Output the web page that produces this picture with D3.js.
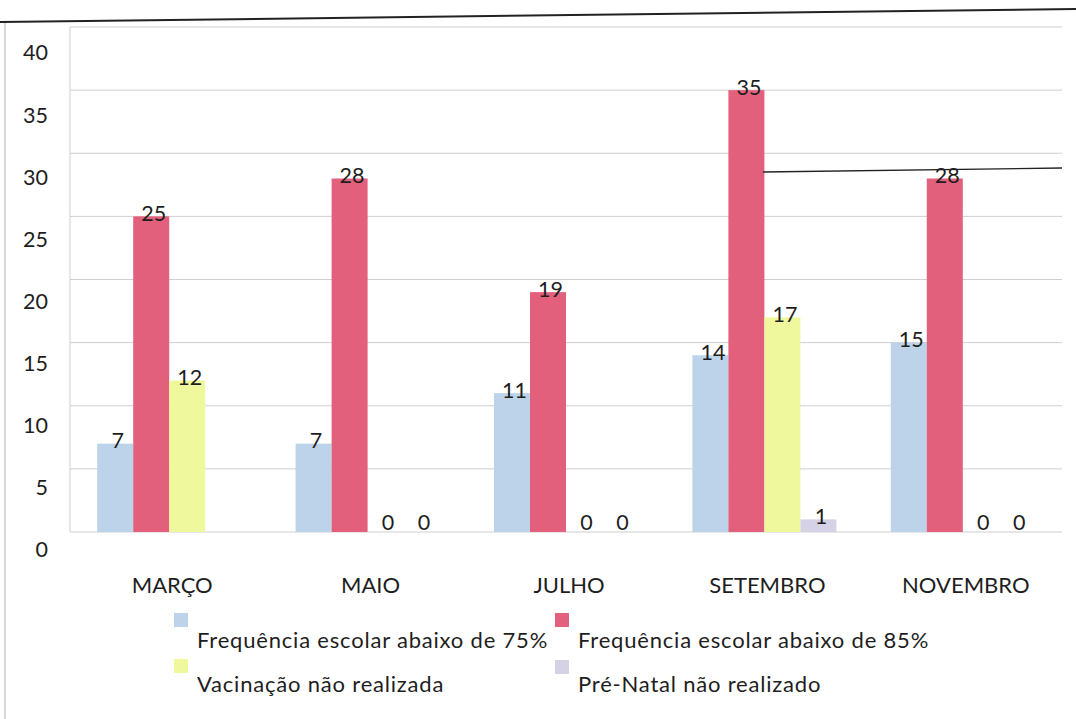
<!DOCTYPE html>
<html>
<head>
<meta charset="utf-8">
<script src="https://cdn.jsdelivr.net/npm/d3@7/dist/d3.min.js"></script>
<style>
  html, body { margin: 0; padding: 0; background: #fff; }
  svg { display: block; font-family: Lato, "Open Sans", sans-serif; }
</style>
</head>
<body>
<svg id="chart" width="1076" height="719"></svg>
<script>
// Monthly counts per condition
const months = ["MARÇO", "MAIO", "JULHO", "SETEMBRO", "NOVEMBRO"];
const seriesNames = [
  "Frequência escolar abaixo de 75%",
  "Frequência escolar abaixo de 85%",
  "Vacinação não realizada",
  "Pré-Natal não realizado"
];
const freq75 = [7, 7, 11, 14, 15];
const freq85 = [25, 28, 19, 35, 28];
const vacina = [12, 0, 0, 17, 0];
const preNatal = [null, 0, 0, 1, 0];
const yTicks = [0, 5, 10, 15, 20, 25, 30, 35, 40];

const seriesValues = [freq75, freq85, vacina, preNatal];
const colors = ["#bcd3ea", "#e2607b", "#eff89c", "#d5d2e6"];
const ink = "#1e1e1e";

const svg = d3.select("#chart");

const plot = { left: 70, right: 1062, top: 27, bottom: 532 };

const x = d3.scaleBand().domain(months).range([plot.left, plot.right]);
const bandInner = 144;
const xs = d3.scaleBand().domain(d3.range(seriesNames.length)).range([0, bandInner]);
const y = d3.scaleLinear().domain([0, 40]).range([plot.bottom, plot.top]);
// tick labels sit a little below their gridlines
const yLabel = d3.scaleLinear().domain([0, 40]).range([550, 53]);

// outer frame lines
svg.append("line").attr("x1", 5).attr("x2", 5).attr("y1", 22).attr("y2", 719)
  .attr("stroke", "#bdbdbd").attr("stroke-width", 1.2);
svg.append("line").attr("x1", 0).attr("y1", 22).attr("x2", 1076).attr("y2", 9)
  .attr("stroke", "#222").attr("stroke-width", 2);

// gridlines
svg.append("g").selectAll("line").data(yTicks).join("line")
  .attr("x1", plot.left).attr("x2", plot.right)
  .attr("y1", d => y(d)).attr("y2", d => y(d))
  .attr("stroke", "#cfcfcf").attr("stroke-width", 1);
svg.append("line").attr("x1", plot.left).attr("x2", plot.left)
  .attr("y1", plot.top).attr("y2", plot.bottom)
  .attr("stroke", "#cfcfcf").attr("stroke-width", 1);

// y axis labels
const yAxis = d3.axisLeft(yLabel).tickValues(yTicks).tickSize(0).tickPadding(0);
const gy = svg.append("g").attr("transform", "translate(48,0)").call(yAxis);
gy.select(".domain").remove();
gy.selectAll("text").attr("font-size", 21.5).attr("fill", ink)
  .attr("font-family", "Lato, sans-serif").attr("text-anchor", "end");

// bars
const groups = svg.append("g").selectAll("g").data(months).join("g")
  .attr("transform", m => `translate(${x(m) + (x.bandwidth() - bandInner) / 2},0)`);

groups.each(function (m, mi) {
  const g = d3.select(this);
  seriesValues.forEach((vals, si) => {
    const v = vals[mi];
    if (v === null) return;
    if (v > 0) {
      g.append("rect")
        .attr("x", xs(si)).attr("width", xs.bandwidth())
        .attr("y", y(v)).attr("height", y(0) - y(v))
        .attr("fill", colors[si]);
    }
    g.append("text")
      .attr("x", xs(si) + xs.bandwidth() / 2 + 2.5)
      .attr("y", y(v) + (v > 0 ? 4.5 : -2))
      .attr("text-anchor", "middle")
      .attr("font-size", 21.5).attr("fill", ink)
      .text(v);
  });
});

// category labels
svg.append("g").selectAll("text").data(months).join("text")
  .attr("x", m => x(m) + x.bandwidth() / 2 + 3)
  .attr("y", 593)
  .attr("text-anchor", "middle")
  .attr("font-size", 22).attr("fill", ink)
  .text(d => d);

// stray rule across the right side
svg.append("line").attr("x1", 763).attr("y1", 172).attr("x2", 1062).attr("y2", 168)
  .attr("stroke", "#222").attr("stroke-width", 1.3);

// legend: swatch above, label below
const legendItems = [
  { sx: 174, sy: 613, tx: 197, ty: 648 },
  { sx: 555, sy: 613, tx: 578, ty: 648 },
  { sx: 174, sy: 659, tx: 197, ty: 692 },
  { sx: 555, sy: 660, tx: 578, ty: 692 }
];
const lg = svg.append("g").selectAll("g").data(seriesNames).join("g");
lg.append("rect")
  .attr("x", (d, i) => legendItems[i].sx).attr("y", (d, i) => legendItems[i].sy)
  .attr("width", 14).attr("height", 14)
  .attr("fill", (d, i) => colors[i]);
lg.append("text")
  .attr("x", (d, i) => legendItems[i].tx).attr("y", (d, i) => legendItems[i].ty)
  .attr("font-size", 22).attr("letter-spacing", 0.8).attr("fill", ink)
  .text(d => d);
</script>
</body>
</html>
